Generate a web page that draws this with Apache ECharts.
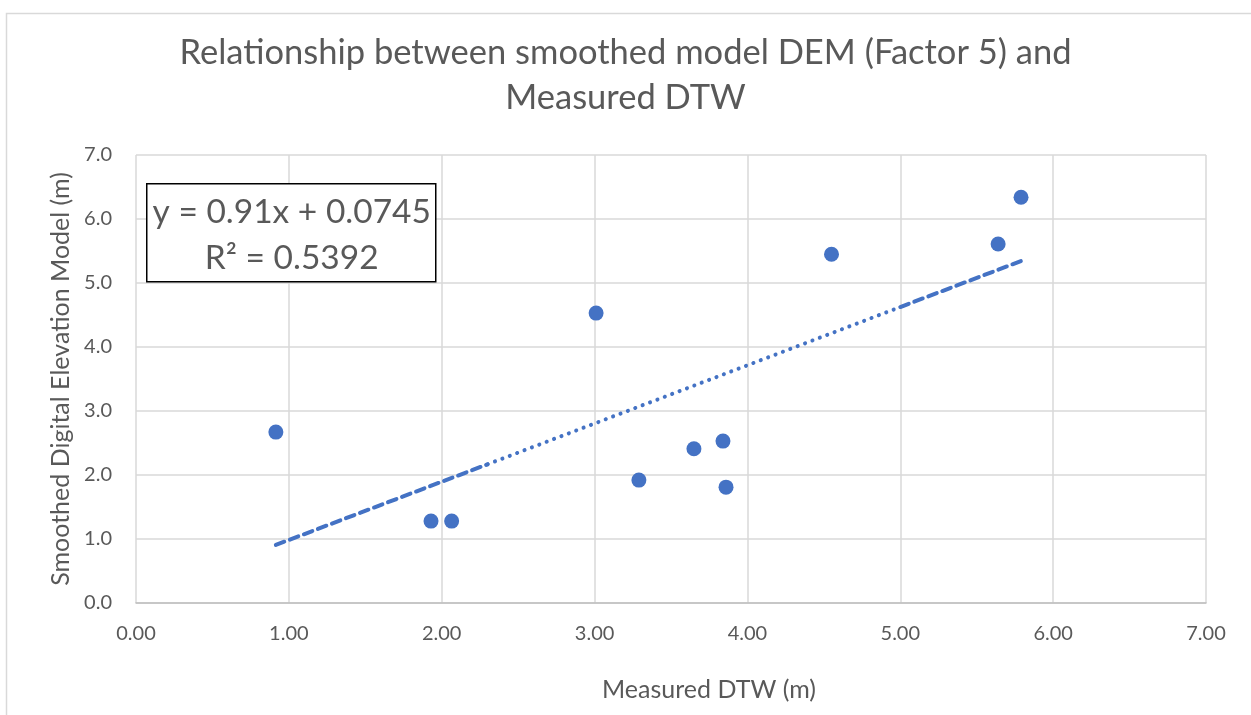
<!DOCTYPE html>
<html>
<head>
<meta charset="utf-8">
<script src="https://cdn.jsdelivr.net/npm/echarts@6/dist/echarts.min.js"></script>
<style>html,body{margin:0;padding:0;background:#fff;}#c{width:1251px;height:715px;}</style>
</head>
<body>
<div id="c"></div>
<script>
const titleText = 'Relationship between smoothed model DEM (Factor 5) and\nMeasured DTW';
const xAxisName = 'Measured DTW (m)';
const yAxisName = 'Smoothed Digital Elevation Model (m)';
const measuredDTW = [0.915, 1.93, 2.065, 3.01, 3.29, 3.65, 3.84, 3.86, 4.55, 5.64, 5.79];
const smoothedDEM = [2.67, 1.28, 1.28, 4.53, 1.92, 2.41, 2.53, 1.81, 5.45, 5.61, 6.34];
const slope = 0.91;
const intercept = 0.0745;
const rSquared = 0.5392;
// trendline style changes along its length (dashed / dotted / dashed)
const trendBreaks = [0.915, 2.3, 5.0, 5.79];

const points = measuredDTW.map((x, i) => [x, smoothedDEM[i]]);
const trendY = x => slope * x + intercept;
const seg = (a, b) => [[a, trendY(a)], [b, trendY(b)]];
const blue = '#4472C4';
const grey = '#595959';
const FONT = 'Lato';

const chart = echarts.init(document.getElementById('c'));
chart.setOption({
  animation: false,
  backgroundColor: '#fff',
  title: {
    text: titleText,
    left: 'center',
    top: 25,
    textStyle: { fontFamily: FONT, fontSize: 34.5, fontWeight: 'normal', color: grey, lineHeight: 45 }
  },
  grid: { left: 136, right: 45, top: 155, bottom: 112 },
  xAxis: {
    type: 'value', min: 0, max: 7, interval: 1,
    name: xAxisName, nameLocation: 'middle', nameGap: 74,
    nameTextStyle: { fontFamily: FONT, fontSize: 25, color: grey, padding: [0, 0, 0, 76] },
    axisLine: { show: true, onZero: false, lineStyle: { color: '#bfbfbf', width: 1.5 } },
    axisTick: { show: false },
    axisLabel: { formatter: v => v.toFixed(2), fontFamily: FONT, fontSize: 20, color: grey, margin: 21 },
    splitLine: { show: true, lineStyle: { color: '#d9d9d9', width: 1.5 } }
  },
  yAxis: {
    type: 'value', min: 0, max: 7, interval: 1,
    name: yAxisName, nameLocation: 'middle', nameGap: 62,
    nameTextStyle: { fontFamily: FONT, fontSize: 25, color: grey },
    axisLine: { show: false },
    axisTick: { show: false },
    axisLabel: { formatter: v => v.toFixed(1), fontFamily: FONT, fontSize: 20, color: grey, margin: 24 },
    splitLine: { show: true, lineStyle: { color: '#d9d9d9', width: 1.5 } }
  },
  series: [
    { type: 'line', data: seg(trendBreaks[0], trendBreaks[1]), symbol: 'none', silent: true,
      lineStyle: { color: blue, width: 4, type: [9, 6], cap: 'round' } },
    { type: 'line', data: seg(trendBreaks[1], trendBreaks[2]), symbol: 'none', silent: true,
      lineStyle: { color: blue, width: 4, type: [0.1, 7.8], cap: 'round' } },
    { type: 'line', data: seg(trendBreaks[2], trendBreaks[3]), symbol: 'none', silent: true,
      lineStyle: { color: blue, width: 4, type: [9, 6], cap: 'round' } },
    { type: 'scatter', data: points, symbol: 'circle', symbolSize: 15,
      itemStyle: { color: blue, opacity: 1 } }
  ],
  graphic: [
    { type: 'rect', left: 4, top: 11, z: 0, shape: { width: 1260, height: 720 },
      style: { fill: 'none', stroke: '#d9d9d9', lineWidth: 1.5 }, silent: true },
    { type: 'group', left: 146, top: 183, z: 100, children: [
      { type: 'rect', z: 100, shape: { x: 0, y: 0, width: 289, height: 98 },
        style: { fill: '#fff', stroke: '#000', lineWidth: 1.5 } },
      { type: 'text', z: 101, x: 145, y: 51,
        style: { text: 'y = ' + slope + 'x + ' + intercept + '\nR² = ' + rSquared,
          fontFamily: FONT, fontSize: 33.5, fill: grey, align: 'center', verticalAlign: 'middle', lineHeight: 46 } }
    ]}
  ]
});
</script>
</body>
</html>
